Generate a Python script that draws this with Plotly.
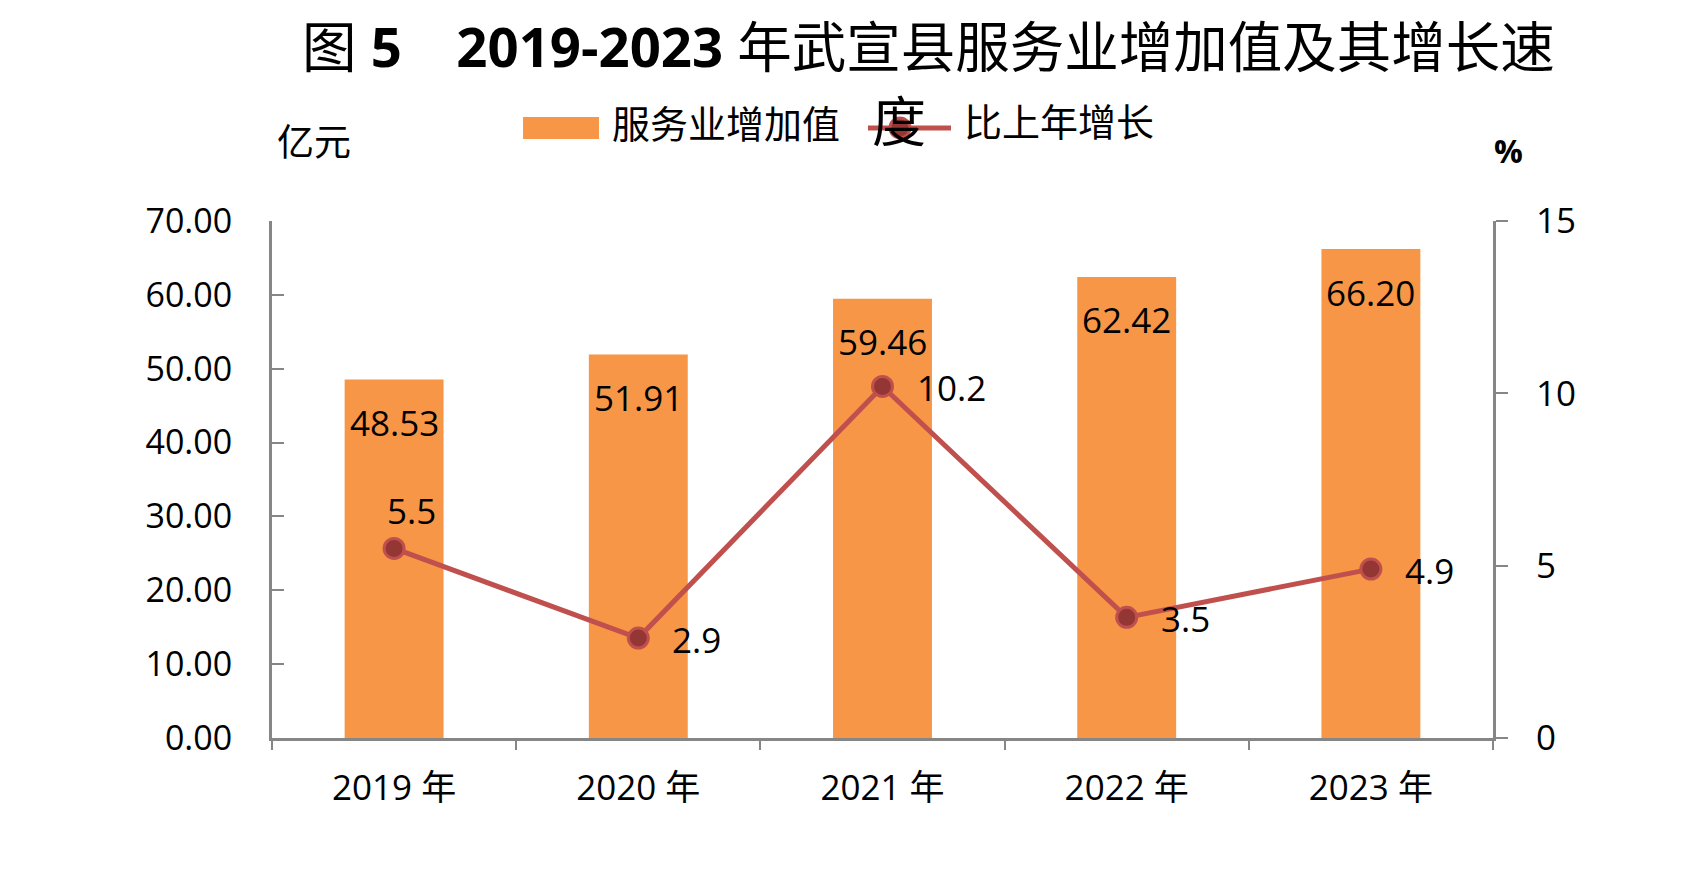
import plotly.graph_objects as go

# Data
years = ["2019 年", "2020 年", "2021 年", "2022 年", "2023 年"]
value_added = [48.53, 51.91, 59.46, 62.42, 66.20]   # 亿元
growth_rate = [5.5, 2.9, 10.2, 3.5, 4.9]            # %

# label placement for the growth line (style only)
growth_label_pos = ["above", "right", "right", "right", "right"]

FONT = "Open Sans, Noto Sans CJK SC, sans-serif"
CJK = "Noto Sans CJK SC, sans-serif"
AXIS_GREY = "#868686"
BAR_COLOR = "#F79646"
LINE_COLOR = "#C0504D"
MARKER_COLOR = "#943634"

fig = go.Figure()

fig.add_trace(go.Bar(
    x=years, y=value_added, name="服务业增加值",
    marker=dict(color=BAR_COLOR, line=dict(width=0)),
    yaxis="y",
))

fig.add_trace(go.Scatter(
    x=years, y=growth_rate, name="比上年增长",
    mode="lines+markers",
    line=dict(color=LINE_COLOR, width=5),
    marker=dict(size=20, color=MARKER_COLOR, line=dict(color=LINE_COLOR, width=3)),
    yaxis="y2",
))

annotations = []
# bar value labels, inside near the top
for yr, v in zip(years, value_added):
    annotations.append(dict(
        x=yr, y=v, xref="x", yref="y", text=f"{v:.2f}",
        showarrow=False, yshift=-43, font=dict(family=FONT, size=35, color="black"),
    ))
# growth labels
for yr, g, pos in zip(years, growth_rate, growth_label_pos):
    if pos == "above":
        annotations.append(dict(
            x=yr, y=g, xref="x", yref="y2", text=f"{g:.1f}",
            showarrow=False, xanchor="center", xshift=17, yshift=38,
            font=dict(family=FONT, size=35, color="black"),
        ))
    else:
        annotations.append(dict(
            x=yr, y=g, xref="x", yref="y2", text=f"{g:.1f}",
            showarrow=False, xanchor="left", xshift=32, yshift=-1,
            font=dict(family=FONT, size=35, color="black"),
        ))

# axis unit labels
annotations.append(dict(x=0.034, y=1.157, xref="paper", yref="paper", text="亿元",
                        xanchor="center", yanchor="middle", showarrow=False,
                        font=dict(family=CJK, size=37, color="black")))
annotations.append(dict(x=1.0123, y=1.137, xref="paper", yref="paper", text="<b>%</b>",
                        xanchor="center", yanchor="middle", showarrow=False,
                        font=dict(family=FONT, size=32, color="black")))

# wrapped last character of the title (it overflows onto the legend row)
annotations.append(dict(x=0.5135, y=1.1992, xref="paper", yref="paper", text="度",
                        xanchor="center", yanchor="middle", showarrow=False,
                        font=dict(family=CJK, size=54, color="black")))

# legend, drawn by hand so the symbols keep the reference's proportions
annotations.append(dict(x=0.2768, y=1.1934, xref="paper", yref="paper", text="服务业增加值",
                        xanchor="left", yanchor="middle", showarrow=False,
                        font=dict(family=CJK, size=38, color="black")))
annotations.append(dict(x=0.5651, y=1.1954, xref="paper", yref="paper", text="比上年增长",
                        xanchor="left", yanchor="middle", showarrow=False,
                        font=dict(family=CJK, size=38, color="black")))
shapes = [
    dict(type="rect", xref="paper", yref="paper", x0=0.2056, x1=0.2678, y0=1.1586, y1=1.2012,
         fillcolor=BAR_COLOR, line=dict(width=0), layer="below"),
    dict(type="line", xref="paper", yref="paper", x0=0.4881, x1=0.5561, y0=1.1799, y1=1.1799,
         line=dict(color=LINE_COLOR, width=5), layer="below"),
    dict(type="circle", xref="paper", yref="paper", x0=0.5061, x1=0.5225, y0=1.1606, y1=1.1992,
         fillcolor=MARKER_COLOR, line=dict(color=LINE_COLOR, width=3), layer="below"),
]

fig.update_layout(
    width=1685,
    height=879,
    margin=dict(l=272, r=192, t=221, b=141),
    paper_bgcolor="white",
    plot_bgcolor="white",
    font=dict(family=FONT, color="black"),
    title=dict(
        text="图 <b>5</b>\u3000<b>2019-2023</b> 年武宣县服务业增加值及其增长速",
        x=0.551, xref="container", xanchor="center",
        y=0.9454, yref="container", yanchor="middle",
        font=dict(family=FONT, size=54.5, color="black"),
    ),
    bargap=0.595,
    showlegend=False,
    xaxis=dict(
        type="category",
        showline=True, linecolor=AXIS_GREY, linewidth=3,
        ticks="outside", tickson="boundaries", ticklen=9, tickwidth=2, tickcolor=AXIS_GREY,
        tickfont=dict(family=FONT, size=35, color="black"),
        ticklabelstandoff=17,
        showgrid=False, zeroline=False,
    ),
    yaxis=dict(
        range=[0, 70], dtick=10, tickformat=".2f",
        showline=True, linecolor=AXIS_GREY, linewidth=3,
        ticks="inside", ticklen=12, tickwidth=2, tickcolor=AXIS_GREY,
        tickfont=dict(family=FONT, size=34, color="black"),
        ticklabelstandoff=30,
        showgrid=False, zeroline=False,
    ),
    yaxis2=dict(
        range=[0, 15], dtick=5, overlaying="y", side="right",
        showline=True, linecolor=AXIS_GREY, linewidth=3,
        ticks="outside", ticklen=12, tickwidth=2, tickcolor=AXIS_GREY,
        tickfont=dict(family=FONT, size=35, color="black"),
        ticklabelstandoff=21,
        showgrid=False, zeroline=False,
    ),
    annotations=annotations,
    shapes=shapes,
)

fig.write_html("out.html", config={"displayModeBar": False},
               post_script="document.body.style.margin='0px';")
